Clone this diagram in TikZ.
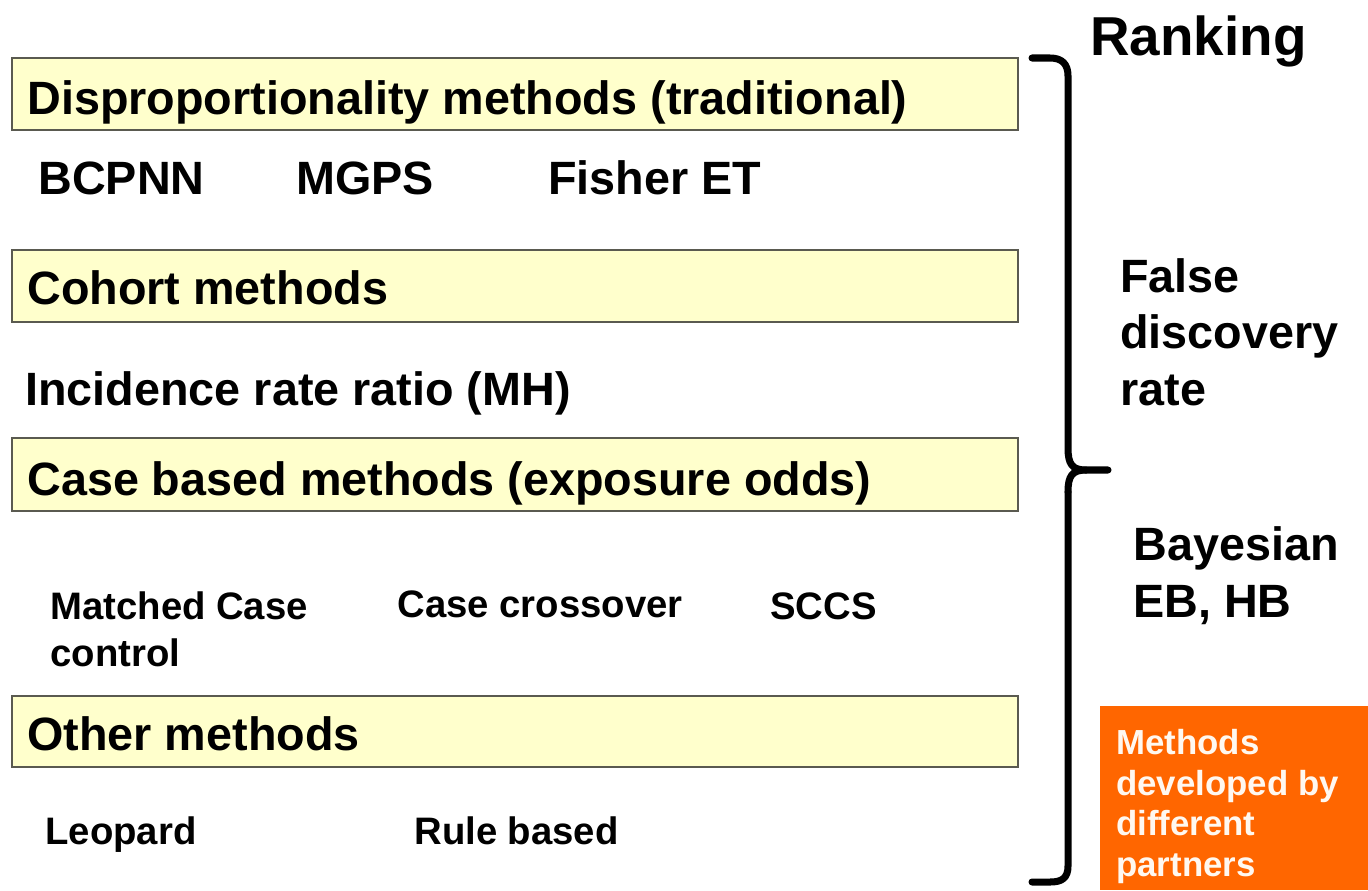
\documentclass[tikz,border=0pt]{standalone}
\usepackage{fontspec}
\setmainfont{Liberation Sans}
\definecolor{boxfill}{HTML}{FFFFCC}
\definecolor{boxline}{HTML}{5A5A50}
\definecolor{orangebg}{HTML}{FF6600}
\definecolor{orangetxt}{HTML}{FFF8F0}
\begin{document}
\begin{tikzpicture}[x=0.02cm,y=-0.02cm,
  catbox/.style={draw=boxline,line width=0.9pt,fill=boxfill},
  maintxt/.style={anchor=base west,inner sep=0pt,font=\fontsize{26.6}{32}\selectfont\bfseries},
  smalltxt/.style={anchor=base west,inner sep=0pt,align=left,font=\fontsize{21.8}{26.6}\selectfont\bfseries},
  sidetxt/.style={anchor=base west,inner sep=0pt,align=left,font=\fontsize{26.6}{32}\selectfont\bfseries},
  orangetext/.style={anchor=base west,inner sep=0pt,align=left,text=orangetxt,font=\fontsize{19.8}{24}\selectfont\bfseries},
  bracestyle/.style={line width=4pt,line cap=round,line join=round}]
\useasboundingbox (0,0) rectangle (1368,890);
% category boxes
\draw[catbox] (12,58) rectangle (1018,130);
\draw[catbox] (12,250) rectangle (1018,322);
\draw[catbox] (12,438) rectangle (1018,511);
\draw[catbox] (12,696) rectangle (1018,767);
\node[maintxt] (t1) at (27,114) {Disproportionality methods (traditional)};
\node[maintxt] (t2) at (27,304) {Cohort methods};
\node[maintxt] (t3) at (27,495) {Case based methods (exposure odds)};
\node[maintxt] (t4) at (27,750) {Other methods};
% items
\node[maintxt] (bcpnn) at (38,194) {BCPNN};
\node[maintxt] (mgps) at (296,194) {MGPS};
\node[maintxt] (fisher) at (548,194) {Fisher ET};
\node[maintxt] (irr) at (25,405) {Incidence rate ratio (MH)};
\node[smalltxt] (mcc) at (50,666) {Matched Case\\control};
\node[smalltxt] (cco) at (397,617) {Case crossover};
\node[smalltxt] (sccs) at (770,619) {SCCS};
\node[smalltxt] (leo) at (45,844) {Leopard};
\node[smalltxt] (rule) at (414,844) {Rule based};
% right side
\node[anchor=base west,inner sep=0pt,font=\fontsize{31.2}{36}\selectfont\bfseries] (rank) at (1090,55) {Ranking};
\node[sidetxt] (fdr) at (1120,405) {False\\discovery\\rate};
\node[sidetxt] (bayes) at (1133,617) {Bayesian\\EB, HB};
\fill[orangebg] (1100,706) rectangle (1368,890);
\node[orangetext] (partners) at (1116,876) {Methods\\[-1pt]developed by\\[-1pt]different\\[-1pt]partners};
% brace
\draw[bracestyle] (1032,58) -- (1050,58) .. controls (1062,58) and (1068,64) .. (1068,76) -- (1068,448) .. controls (1068,464) and (1072,470) .. (1086,470) -- (1108,470);
\draw[bracestyle] (1068,492) .. controls (1068,476) and (1072,470) .. (1086,470);
\draw[bracestyle] (1068,492) -- (1068,866) .. controls (1068,878) and (1062,882) .. (1050,882) -- (1032,882);
\end{tikzpicture}
\end{document}
